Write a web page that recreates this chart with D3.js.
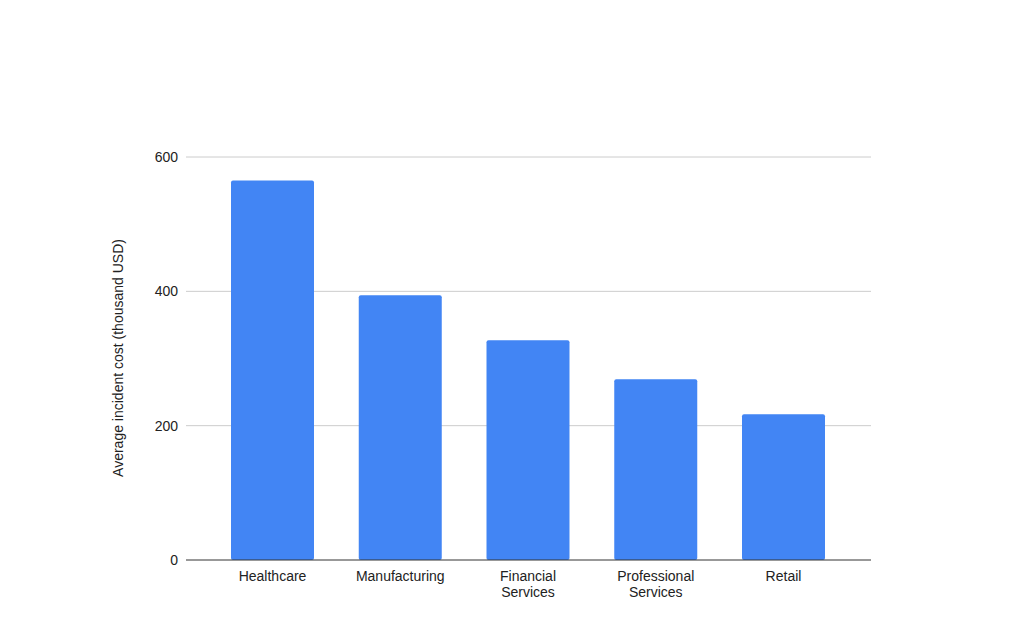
<!DOCTYPE html>
<html><head><meta charset="utf-8">
<script src="https://cdn.jsdelivr.net/npm/d3@7"></script>
<style>body{margin:0;background:#fff}text{font-family:"Liberation Sans",Arial,sans-serif;fill:#222}</style>
</head><body>
<script>
const industries = ["Healthcare", "Manufacturing", "Financial Services", "Professional Services", "Retail"];
const costs = [565, 394, 327, 269, 217];
const yTicks = [0, 200, 400, 600];

const w = 1024, h = 644;
const svg = d3.select("body").append("svg").attr("width", w).attr("height", h);

const x = d3.scalePoint().domain(industries).range([272.5, 783.5]);
const y = d3.scaleLinear().domain([0, 600]).range([560, 157]);
const barW = 83;

// gridlines
svg.selectAll("line.grid").data(yTicks.filter(t => t > 0)).enter().append("line")
  .attr("x1", 186).attr("x2", 871)
  .attr("y1", d => y(d)).attr("y2", d => y(d))
  .attr("stroke", "#cccccc").attr("stroke-width", 1);

svg.selectAll("text.ytick").data(yTicks).enter().append("text")
  .attr("x", 178).attr("y", d => y(d) + 5).attr("text-anchor", "end")
  .style("font-size", "14px").text(d => d);

// bars
svg.selectAll("rect.bar").data(costs).enter().append("rect")
  .attr("x", (d, i) => x(industries[i]) - barW / 2)
  .attr("y", d => y(d)).attr("width", barW).attr("height", d => y(0) - y(d))
  .attr("rx", 2).attr("fill", "#4285f4");

// baseline
svg.append("line").attr("x1", 186).attr("x2", 871).attr("y1", y(0)).attr("y2", y(0))
  .attr("stroke", "#333").attr("stroke-width", 1);

// category labels
const lbl = svg.selectAll("text.xl").data(industries).enter().append("text")
  .attr("text-anchor", "middle").style("font-size", "14px")
  .attr("transform", d => `translate(${x(d)},581)`);
lbl.each(function (d) {
  const words = d.split(" ");
  words.forEach((wd, i) => d3.select(this).append("tspan").attr("x", 0).attr("dy", i ? 16 : 0).text(wd));
});

// y title
svg.append("text").attr("transform", "translate(123,358) rotate(-90)")
  .attr("text-anchor", "middle").style("font-size", "14px")
  .text("Average incident cost (thousand USD)");
</script>
</body></html>
